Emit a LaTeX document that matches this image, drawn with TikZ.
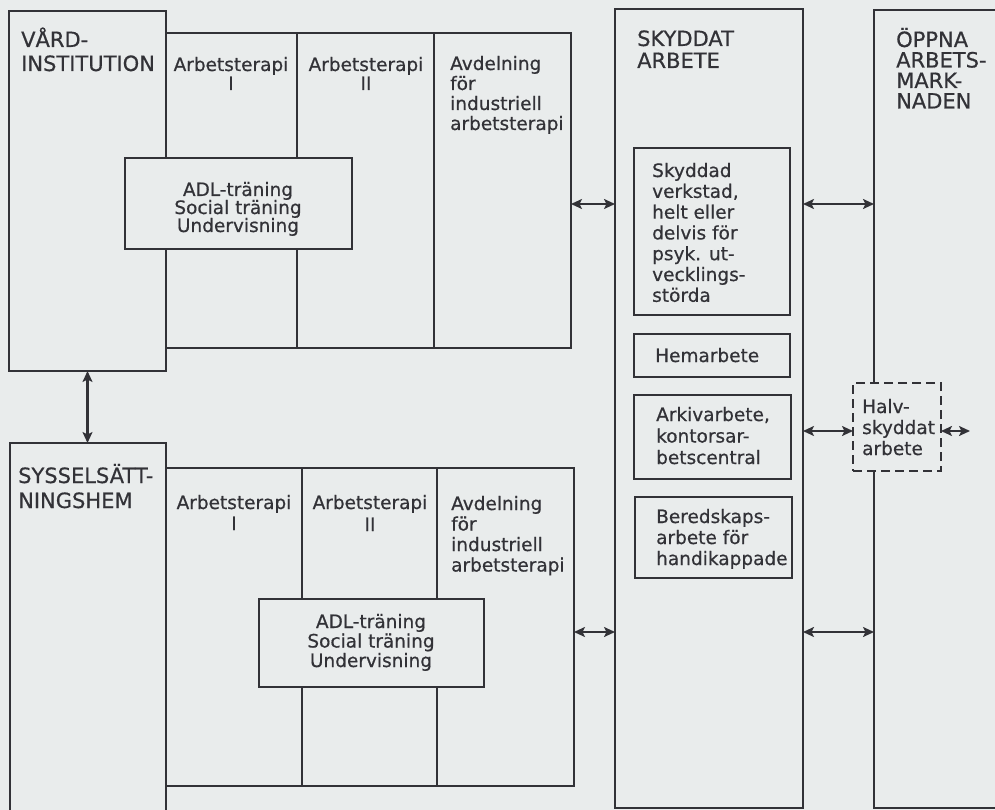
\documentclass[tikz,border=0pt]{standalone}
\usepackage{fontspec}
\newfontfamily\dvs[FakeBold=0.6]{DejaVu Sans}
\usetikzlibrary{arrows.meta}
\definecolor{bg}{RGB}{233,236,236}
\definecolor{ink}{RGB}{50,50,55}
\newcommand{\Lft}[2]{\vtop{\baselineskip=#1\lineskiplimit=-100pt\lineskip=0pt\halign{##\hfil\cr#2\crcr}}}
\newcommand{\Ctr}[2]{\vtop{\baselineskip=#1\lineskiplimit=-100pt\lineskip=0pt\halign{\hfil##\hfil\cr#2\crcr}}}
\tikzset{
  box/.style={draw=ink, line width=1.8pt, rectangle, inner sep=0pt, outer sep=0pt},
  cover/.style={box, fill=bg},
  dbox/.style={box, fill=bg, dash pattern=on 9pt off 5pt},
  ttl/.style={inner sep=0pt, anchor=base west, text=ink, font=\dvs\fontsize{21}{24}\selectfont},
  lbl/.style={inner sep=0pt, anchor=base west, text=ink, font=\dvs\fontsize{18.5}{20}\selectfont},
  clbl/.style={lbl, anchor=base},
  dar/.style={draw=ink, line width=2.2pt, >={Stealth[length=11pt,width=10pt,inset=2.5pt]}, <->},
}
\begin{document}
\begin{tikzpicture}[x=1pt,y=-1pt]
\useasboundingbox (0,0) rectangle (995,810);
\fill[bg] (0,0) rectangle (995,810);
\clip (0,0) rectangle (995,810);

% upper group
\node[box, minimum width=157pt, minimum height=360pt] (vard) at (87.5,191) {};
\node[box, minimum width=131pt, minimum height=315pt] (at1U) at (231.5,190.5) {};
\node[box, minimum width=137pt, minimum height=315pt] (at2U) at (365.5,190.5) {};
\node[box, minimum width=137pt, minimum height=315pt] (avdU) at (502.5,190.5) {};
\node[cover, minimum width=227pt, minimum height=91pt] (adlU) at (238.5,203.5) {};

% lower group
\node[box, minimum width=156pt, minimum height=377pt] (syssel) at (88,631.5) {};
\node[box, minimum width=136pt, minimum height=318pt] (at1L) at (234,627) {};
\node[box, minimum width=135pt, minimum height=318pt] (at2L) at (369.5,627) {};
\node[box, minimum width=137pt, minimum height=318pt] (avdL) at (505.5,627) {};
\node[cover, minimum width=225pt, minimum height=88pt] (adlL) at (371.5,643) {};

% skyddat arbete
\node[box, minimum width=188pt, minimum height=799pt] (skydd) at (709,408.5) {};
\node[box, minimum width=156pt, minimum height=167pt] (verk) at (712,231.5) {};
\node[box, minimum width=156pt, minimum height=43pt] (hem) at (712,355.5) {};
\node[box, minimum width=157pt, minimum height=84pt] (ark) at (712.5,437) {};
\node[box, minimum width=157pt, minimum height=81pt] (bered) at (713.5,537.5) {};

% oppna arbetsmarknaden
\node[box, minimum width=136pt, minimum height=798pt] (oppna) at (942,409) {};
\node[dbox, minimum width=88pt, minimum height=88pt] (halv) at (897,427) {};

% texts
\node[ttl] (vardT) at (21,47) {\Lft{24pt}{VÅRD-\cr INSTITUTION}};
\node[clbl] (at1UT) at (231,71) {\Ctr{19pt}{Arbetsterapi\cr I}};
\node[clbl] (at2UT) at (366,71) {\Ctr{19pt}{Arbetsterapi\cr II}};
\node[lbl] (avdUT) at (450,70) {\Lft{20pt}{Avdelning\cr för\cr industriell\cr arbetsterapi}};
\node[clbl] (adlUT) at (238,196) {\Ctr{18pt}{ADL-träning\cr Social träning\cr Undervisning}};

\node[ttl] (sysselT) at (18,483) {\Lft{25pt}{SYSSELSÄTT-\cr NINGSHEM}};
\node[clbl] (at1LT) at (234,509) {\Ctr{21pt}{Arbetsterapi\cr I}};
\node[clbl] (at2LT) at (370,509) {\Ctr{22pt}{Arbetsterapi\cr II}};
\node[lbl] (avdLT) at (451,510) {\Lft{20.5pt}{Avdelning\cr för\cr industriell\cr arbetsterapi}};
\node[clbl] (adlLT) at (371,628) {\Ctr{19.5pt}{ADL-träning\cr Social träning\cr Undervisning}};

\node[ttl] (skyddT) at (637,46) {\Lft{22pt}{SKYDDAT\cr ARBETE}};
\node[ttl] (oppnaT) at (896,47) {\Lft{20.5pt}{ÖPPNA\cr ARBETS-\cr MARK-\cr NADEN}};
\node[lbl] (verkT) at (652,177) {\Lft{20.8pt}{Skyddad\cr verkstad,\cr helt eller\cr delvis för\cr psyk. ut-\cr vecklings-\cr störda}};
\node[lbl] (hemT) at (655,362) {Hemarbete};
\node[lbl] (arkT) at (656,421) {\Lft{21.5pt}{Arkivarbete,\cr kontorsar-\cr betscentral}};
\node[lbl] (beredT) at (656,523) {\Lft{21pt}{Beredskaps-\cr arbete för\cr handikappade}};
\node[lbl] (halvT) at (862,413) {\Lft{21pt}{Halv-\cr skyddat\cr arbete}};

% connectors
\coordinate (yA) at (0,204);
\coordinate (yB) at (0,632);
\coordinate (yH) at (0,431);
\coordinate (hend) at (970,431);
\draw[dar] (vard.south) -- (vard.south |- syssel.north);
\draw[dar] (avdU.east |- yA) -- (skydd.west |- yA);
\draw[dar] (avdL.east |- yB) -- (skydd.west |- yB);
\draw[dar] (skydd.east |- yA) -- (oppna.west |- yA);
\draw[dar] (skydd.east |- yB) -- (oppna.west |- yB);
\draw[dar] (skydd.east |- yH) -- (halv.west |- yH);
\draw[dar] (halv.east |- yH) -- (hend);
\end{tikzpicture}
\end{document}
